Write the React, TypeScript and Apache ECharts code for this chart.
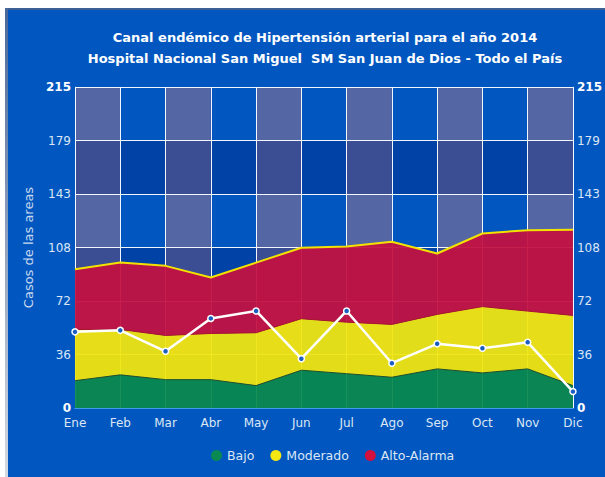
import React, { useEffect, useRef } from "react";
import * as echarts from "echarts";

const months = ["Ene", "Feb", "Mar", "Abr", "May", "Jun", "Jul", "Ago", "Sep", "Oct", "Nov", "Dic"];
const bajo = [18.3, 22.2, 19.0, 19.0, 15.0, 25.3, 23.0, 20.6, 26.2, 23.5, 26.2, 15.0];
const moderado = [34.3, 30.4, 29.6, 30.9, 35.4, 34.5, 34.5, 35.4, 36.5, 44.4, 38.7, 47.0];
const altoAlarma = [40.4, 44.8, 46.6, 37.5, 47.0, 47.5, 50.7, 55.3, 40.8, 49.0, 54.2, 57.4];
const casos2014 = [51, 52, 38, 60, 65, 33, 65, 30, 43, 40, 44, 11];
const yMax = 215;
const ySteps = 6;
const titleLines = [
  "Canal endémico de Hipertensión arterial para el año 2014",
  "Hospital Nacional San Miguel  SM San Juan de Dios - Todo el País",
];

const FONT = '"DejaVu Sans", Verdana, sans-serif';
const AXIS_BLUE = "#3d9be9";
const LABEL = "#dce6f5";

const fmt = (v: number) => {
  const r = Math.round(v);
  if (r === 0 || r === yMax) return "{b|" + r + "}";
  return String(r);
};

export default function App() {
  const ref = useRef<HTMLDivElement>(null);
  useEffect(() => {
    if (!ref.current) return;
    const chart = echarts.init(ref.current, undefined, { renderer: "svg" });
    const yCommon = {
      type: "value" as const,
      min: 0,
      max: yMax,
      interval: yMax / ySteps,
      axisTick: { show: false },
      axisLine: { show: true, lineStyle: { color: AXIS_BLUE, width: 1 } },
      axisLabel: {
        formatter: fmt,
        color: LABEL,
        fontSize: 12,
        fontFamily: FONT,
        margin: 4,
        rich: { b: { fontWeight: "bold", color: "#ffffff", fontSize: 12, fontFamily: FONT } },
      },
    };
    chart.setOption({
      animation: false,
      backgroundColor: "transparent",
      graphic: [
        { type: "rect", z: -10, shape: { x: 6, y: 8, width: 599, height: 469 }, style: { fill: "#0157bf" } },
        { type: "rect", z: -9, shape: { x: 6, y: 8, width: 599, height: 2 }, style: { fill: "#3b5f96" } },
        {
          type: "rect",
          z: -9,
          shape: { x: 5, y: 8, width: 3, height: 469 },
          style: {
            fill: new echarts.graphic.LinearGradient(0, 0, 0, 1, [
              { offset: 0, color: "#4a6898" },
              { offset: 1, color: "#d5dae2" },
            ]),
          },
        },
        {
          type: "text",
          x: 325,
          y: 37,
          style: { text: titleLines[0], fill: "#ffffff", fontSize: 13, fontWeight: "bold", fontFamily: FONT, align: "center", verticalAlign: "middle" },
        },
        {
          type: "text",
          x: 325,
          y: 58,
          style: { text: titleLines[1], fill: "#ffffff", fontSize: 13, fontWeight: "bold", fontFamily: FONT, align: "center", verticalAlign: "middle" },
        },
      ],
      legend: {
        left: 206,
        top: 444,
        icon: "circle",
        itemWidth: 11,
        itemHeight: 11,
        itemGap: 16,
        itemStyle: { borderWidth: 0 },
        textStyle: { color: LABEL, fontSize: 12.5, fontFamily: FONT },
        data: [
          { name: "Bajo", itemStyle: { color: "#0a8a52" } },
          { name: "Moderado", itemStyle: { color: "#f5e812" } },
          { name: "Alto-Alarma", itemStyle: { color: "#d4103e" } },
        ],
      },
      grid: { left: 75, right: 32, top: 87, bottom: 69 },
      xAxis: [
        {
          type: "category",
          data: months,
          boundaryGap: false,
          z: 0,
          axisTick: { show: false },
          axisLine: { show: true, lineStyle: { color: AXIS_BLUE } },
          axisLabel: { color: LABEL, fontSize: 12, fontFamily: FONT, margin: 9 },
          splitLine: { show: false },
          splitArea: { show: true, areaStyle: { color: ["rgba(170,117,137,0.5)", "rgba(0,0,0,0)"] } },
        },
        {
          type: "category",
          data: months,
          boundaryGap: false,
          position: "top",
          z: 1.5,
          axisTick: { show: false },
          axisLabel: { show: false },
          axisLine: { show: true, lineStyle: { color: AXIS_BLUE } },
          splitLine: { show: true, lineStyle: { color: "rgba(255,255,255,0.95)", width: 1 } },
          splitArea: { show: false },
        },
      ],
      yAxis: [
        {
          ...yCommon,
          position: "left",
          z: 1,
          name: "Casos de las areas",
          nameLocation: "middle",
          nameRotate: 90,
          nameGap: 38,
          nameTextStyle: { color: "#c8d8f0", fontSize: 13, fontFamily: FONT },
          splitLine: { show: true, lineStyle: { color: "rgba(255,255,255,0.95)", width: 1 } },
          splitArea: { show: true, areaStyle: { color: ["rgba(0,20,110,0.3)", "rgba(0,0,0,0)"] } },
        },
        {
          ...yCommon,
          position: "right",
          z: 1,
          splitLine: { show: false },
          splitArea: { show: false },
        },
      ],
      series: [
        {
          name: "Bajo",
          type: "line",
          stack: "canal",
          data: bajo,
          symbol: "none",
          itemStyle: { color: "#0a8a52" },
          lineStyle: { color: "#1d4f2e", width: 1 },
          areaStyle: { color: "#08894f", opacity: 0.94 },
        },
        {
          name: "Moderado",
          type: "line",
          stack: "canal",
          data: moderado,
          symbol: "none",
          itemStyle: { color: "#f5e812" },
          lineStyle: { color: "#a8152f", width: 1 },
          areaStyle: { color: "#f0e610", opacity: 0.94 },
        },
        {
          name: "Alto-Alarma",
          type: "line",
          stack: "canal",
          data: altoAlarma,
          symbol: "none",
          itemStyle: { color: "#d4103e" },
          lineStyle: { color: "#f2e200", width: 2 },
          areaStyle: { color: "#c21142", opacity: 0.94 },
        },
        {
          name: "Casos 2014",
          type: "line",
          data: casos2014,
          symbol: "circle",
          symbolSize: 6,
          z: 5,
          itemStyle: { color: "#1b5fc0", borderColor: "#ffffff", borderWidth: 1.5 },
          lineStyle: { color: "#ffffff", width: 2.5 },
        },
      ],
    });
    return () => chart.dispose();
  }, []);
  return (
    <div style={{ position: "fixed", left: 0, top: 0, width: 605, height: 477, background: "#ffffff" }}>
      <div ref={ref} style={{ width: 605, height: 477 }} />
    </div>
  );
}
